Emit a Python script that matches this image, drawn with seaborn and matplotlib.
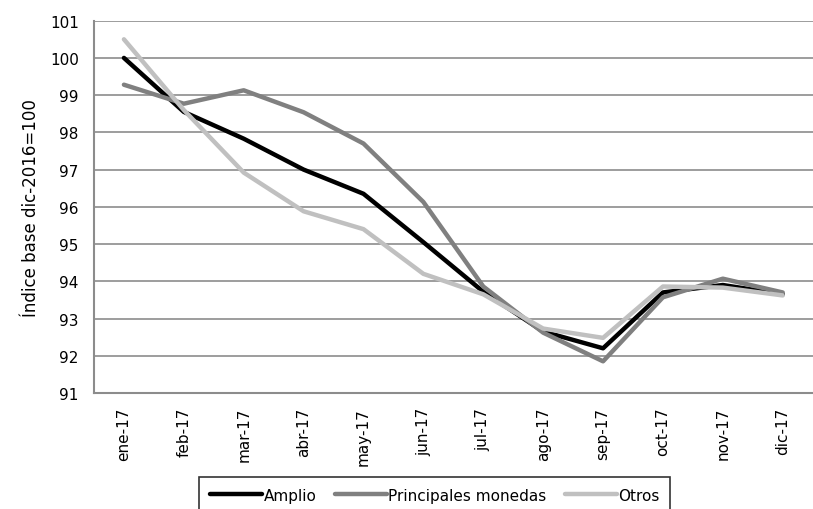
import matplotlib.pyplot as plt
import seaborn as sns
import pandas as pd

meses = ["ene-17", "feb-17", "mar-17", "abr-17", "may-17", "jun-17",
         "jul-17", "ago-17", "sep-17", "oct-17", "nov-17", "dic-17"]

amplio = [100.0, 98.55, 97.83, 97.0, 96.35, 95.05, 93.72, 92.65, 92.2, 93.7, 93.9, 93.65]
principales = [99.28, 98.77, 99.13, 98.54, 97.7, 96.13, 93.86, 92.62, 91.85, 93.57, 94.07, 93.7]
otros = [100.5, 98.6, 96.92, 95.88, 95.4, 94.2, 93.65, 92.73, 92.48, 93.86, 93.83, 93.62]

series_names = ["Amplio", "Principales monedas", "Otros"]
series_colors = ["#000000", "#808080", "#c0c0c0"]

df = pd.DataFrame({
    "mes": meses * 3,
    "valor": amplio + principales + otros,
    "serie": [s for s in series_names for _ in meses],
})

sns.set_style("white")
plt.rcParams["font.family"] = ["DejaVu Sans"]
plt.rcParams["text.color"] = "black"
plt.rcParams["xtick.labelcolor"] = "black"
plt.rcParams["ytick.labelcolor"] = "black"
plt.rcParams["axes.labelcolor"] = "black"

fig = plt.figure(figsize=(8.13, 5.10), dpi=100)
ax = fig.add_axes([0.1156, 0.2275, 0.884, 0.73])

sns.lineplot(data=df, x="mes", y="valor", hue="serie", hue_order=series_names,
             palette=series_colors, linewidth=3.2, ax=ax, sort=False)

ax.set_ylim(91, 101)
ax.set_yticks(range(91, 102))
ax.set_xlim(-0.5, len(meses) - 0.5)
ax.yaxis.grid(True, color="#8c8c8c", linewidth=1.2)
ax.set_axisbelow(True)

# category labels at centers, tick marks between categories
ax.set_xticks(range(len(meses)))
ax.set_xticklabels(meses, rotation=90)
ax.set_xticks([i - 0.5 for i in range(len(meses) + 1)], minor=True)
ax.tick_params(axis="x", which="major", length=0, labelsize=11, pad=10)
ax.tick_params(axis="x", which="minor", length=6, width=1.2, color="#8c8c8c", direction="out")
ax.tick_params(axis="y", length=6, width=1.2, color="#8c8c8c", direction="out", labelsize=11, pad=5)

for side in ["top", "right"]:
    ax.spines[side].set_visible(False)
for side in ["left", "bottom"]:
    ax.spines[side].set_color("#8c8c8c")
    ax.spines[side].set_linewidth(1.5)

ax.set_xlabel("")
ax.set_ylabel("Índice base dic-2016=100", fontsize=12, labelpad=7)

# legend box runs off the bottom edge, as in the original
leg = ax.legend(loc="upper center", bbox_to_anchor=(0.535, 0.063), bbox_transform=fig.transFigure,
                ncol=3, frameon=True, fancybox=False, fontsize=11, handlelength=3.4,
                handletextpad=0.1, columnspacing=1.2, borderpad=0.7, borderaxespad=0)
leg.get_frame().set_edgecolor("black")
leg.get_frame().set_linewidth(1.2)
for line in leg.get_lines():
    line.set_linewidth(3.2)

fig.savefig("out.png", dpi=100)
